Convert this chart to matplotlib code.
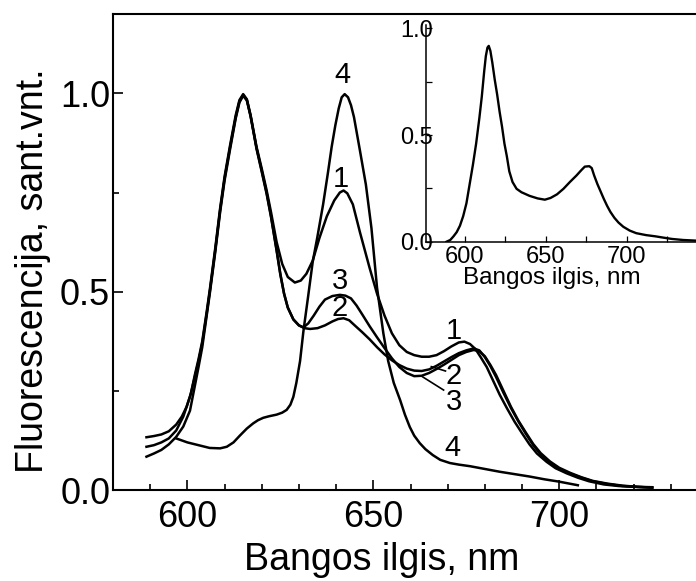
import matplotlib
matplotlib.use("Agg")
import matplotlib.pyplot as plt
from matplotlib.ticker import MultipleLocator

plt.rcParams['font.family'] = ['Liberation Sans', 'DejaVu Sans']

# ---- fluorescence spectra (wavelength, nm / normalised intensity) ----
wl_1 = [589, 591, 593, 595, 597, 598.5, 599.8, 601, 602, 603, 604, 605.2, 606.1, 607.5, 608.8,
        610, 611.5, 613, 614, 615, 616, 617, 618.6, 620, 621.3, 622.5, 624, 625.5, 627, 628.9,
        630.5, 632, 633.7, 635.5, 637.5, 639.5, 641, 642, 643, 644.5, 646.4, 649, 651, 653, 655,
        657, 659, 661, 663, 665, 667, 669, 671, 673, 674.5, 676, 677.5, 679, 680.5, 682, 684,
        686, 688, 690, 692, 694, 696.6, 699, 702, 705, 708, 712, 716, 720, 725]
fl_1 = [0.133, 0.136, 0.14, 0.148, 0.165, 0.185, 0.21, 0.245, 0.29, 0.33, 0.375, 0.45, 0.51, 0.61, 0.71,
        0.79, 0.87, 0.945, 0.983, 0.998, 0.985, 0.945, 0.865, 0.81, 0.756, 0.70, 0.625, 0.57, 0.537, 0.523,
        0.528, 0.545, 0.578, 0.635, 0.69, 0.73, 0.75, 0.755, 0.748, 0.72, 0.65, 0.56, 0.495, 0.44, 0.395,
        0.365, 0.348, 0.34, 0.336, 0.336, 0.34, 0.35, 0.362, 0.372, 0.374, 0.368, 0.355, 0.333, 0.31, 0.28, 0.24,
        0.205, 0.172, 0.143, 0.115, 0.092, 0.071, 0.055, 0.042, 0.031, 0.022, 0.014, 0.01, 0.008, 0.006]

wl_2 = [589, 591, 593, 595, 597, 598.9, 600.7, 602, 603, 604, 605.2, 606.1, 607.5, 608.8, 610,
        611.5, 613, 614, 615, 616, 617, 618.6, 620, 621.3, 622.5, 624, 625, 626, 627, 628.5,
        630, 631.5, 633, 635, 637, 639, 640.5, 642, 643.5, 645, 647, 649, 651, 653, 655, 657,
        659, 661, 663, 665, 667, 669, 671, 673, 675, 677, 678.5, 680, 681.5, 683, 685, 687,
        689, 691, 693, 695, 697.5, 700, 703, 706, 709, 713, 717, 721, 725]
fl_2 = [0.109, 0.113, 0.12, 0.13, 0.15, 0.185, 0.235, 0.285, 0.325, 0.37, 0.445, 0.505, 0.605, 0.705, 0.785,
        0.865, 0.94, 0.98, 0.996, 0.983, 0.943, 0.862, 0.805, 0.75, 0.69, 0.605, 0.545, 0.495, 0.46, 0.43,
        0.415, 0.408, 0.406, 0.408, 0.415, 0.425, 0.431, 0.433, 0.428, 0.415, 0.398, 0.38, 0.36, 0.342, 0.327, 0.315,
        0.306, 0.301, 0.30, 0.304, 0.313, 0.324, 0.335, 0.345, 0.352, 0.357, 0.352, 0.335, 0.312, 0.285, 0.245, 0.207,
        0.173, 0.142, 0.113, 0.09, 0.069, 0.054, 0.041, 0.031, 0.022, 0.015, 0.01, 0.008, 0.006]

wl_3 = [589, 591, 593, 595, 597, 598.9, 600.7, 602, 603, 604, 605.2, 606.1, 607.5, 608.8, 610,
        611.5, 613, 614, 615, 616, 617, 618.6, 620, 621.3, 622.5, 624, 625, 626, 627, 628.5,
        630, 631.2, 632.5, 634, 635.5, 637, 639, 641, 642.5, 644, 645.5, 647, 649, 651, 653,
        655, 657, 659, 661, 663, 665, 667, 669, 671, 673, 675, 677, 678.5, 680, 681.5, 683,
        685, 687, 689, 691, 693, 695, 697.5, 700, 703, 706, 709, 713, 717, 721, 725]
fl_3 = [0.084, 0.092, 0.101, 0.115, 0.134, 0.16, 0.2, 0.262, 0.31, 0.36, 0.44, 0.5, 0.6, 0.7, 0.78,
        0.86, 0.937, 0.977, 0.994, 0.982, 0.942, 0.86, 0.802, 0.747, 0.688, 0.603, 0.543, 0.495, 0.46, 0.43,
        0.415, 0.41, 0.42, 0.44, 0.462, 0.48, 0.489, 0.492, 0.49, 0.483, 0.465, 0.443, 0.413, 0.385, 0.358,
        0.332, 0.31, 0.295, 0.287, 0.288, 0.295, 0.305, 0.316, 0.328, 0.34, 0.348, 0.353, 0.35, 0.337, 0.315, 0.29,
        0.25, 0.21, 0.175, 0.145, 0.116, 0.093, 0.072, 0.056, 0.043, 0.032, 0.023, 0.016, 0.011, 0.008, 0.007]

wl_4 = [597, 600, 603, 606, 608.8, 610.6, 612.4, 614.1, 616, 617.7, 619, 620.4, 622, 624, 625.5,
        626.7, 627.7, 628.5, 629.3, 630.3, 631.2, 632.5, 633.7, 635, 636.5, 637.8, 638.8, 639.8,
        640.7, 641.5, 642.3, 643.2, 644, 644.8, 646.4, 648, 649.5, 651, 652.7, 654, 655.5, 657.2,
        658.5, 659.8, 661, 662.5, 664, 666, 668, 670.6, 673, 676, 680, 684, 688, 692, 696, 700, 705]
fl_4 = [0.13, 0.12, 0.113, 0.106, 0.105, 0.109, 0.12, 0.137, 0.155, 0.168, 0.176, 0.182, 0.186, 0.19, 0.195,
        0.202, 0.215, 0.235, 0.27, 0.325, 0.40, 0.49, 0.575, 0.64, 0.72, 0.80, 0.865, 0.92,
        0.962, 0.99, 0.998, 0.99, 0.97, 0.94, 0.856, 0.77, 0.66, 0.51, 0.395, 0.325, 0.27, 0.227,
        0.19, 0.159, 0.137, 0.118, 0.103, 0.088, 0.076, 0.068, 0.064, 0.060, 0.053, 0.046, 0.04, 0.034, 0.027, 0.021, 0.012]

# ---- inset spectrum ----
wl_in = [588.7, 591, 593, 595, 597, 599, 601, 603, 605, 607, 609, 610.5, 612, 613, 614, 614.8,
         615.8, 617, 618.5, 620, 621.5, 623, 624.5, 626, 627.5, 629.5, 632, 635, 640, 645, 649.5,
         653, 657, 661, 665, 669, 672, 674.2, 677, 678.5, 680, 682, 684, 686, 688, 690, 692.5,
         695, 698, 702, 706, 712, 718, 722, 728, 735, 743]
fl_in = [0.0, 0.008, 0.025, 0.045, 0.075, 0.12, 0.18, 0.27, 0.36, 0.46, 0.58, 0.68, 0.80, 0.87, 0.91, 0.918,
         0.895, 0.84, 0.76, 0.69, 0.61, 0.54, 0.46, 0.40, 0.33, 0.28, 0.248, 0.232, 0.215, 0.203, 0.197,
         0.205, 0.222, 0.248, 0.28, 0.31, 0.335, 0.352, 0.354, 0.345, 0.31, 0.27, 0.235, 0.2, 0.168, 0.14, 0.112,
         0.09, 0.07, 0.052, 0.04, 0.031, 0.025, 0.02, 0.013, 0.008, 0.005]

# curve number labels: (text, wavelength, intensity)
curve_labels = [("4", 641.6, 1.045), ("1", 641.3, 0.783), ("3", 641.0, 0.527), ("2", 641.0, 0.458),
                ("1", 671.7, 0.400), ("2", 671.7, 0.287), ("3", 671.7, 0.222), ("4", 671.4, 0.106)]

W, H = 696, 581
fig = plt.figure(figsize=(W / 100, H / 100), dpi=100)

# main panel
ax = fig.add_axes([113 / W, (H - 490) / H, 595 / W, 476 / H])
for wl, fl in [(wl_1, fl_1), (wl_2, fl_2), (wl_3, fl_3), (wl_4, fl_4)]:
    ax.plot(wl, fl, color='black', lw=1.8, solid_joinstyle='round')

for txt, x, y in curve_labels:
    ax.text(x, y, txt, fontsize=21, ha='center', va='center')

# leader lines from curves 2 and 3 to their labels
ax.plot([665.6, 669.4], [0.311, 0.300], color='black', lw=1.2)
ax.plot([663.3, 668.9], [0.285, 0.252], color='black', lw=1.2)

ax.set_xlim(580, 740)
ax.set_ylim(0, 1.2)
ax.spines['right'].set_visible(False)
for s in ax.spines.values():
    s.set_linewidth(1.5)
ax.xaxis.set_major_locator(MultipleLocator(50))
ax.xaxis.set_minor_locator(MultipleLocator(10))
ax.yaxis.set_major_locator(MultipleLocator(0.5))
ax.yaxis.set_minor_locator(MultipleLocator(0.25))
ax.tick_params(which='both', direction='in', top=False, right=False, width=1.2, labelsize=26)
ax.tick_params(which='major', length=7)
ax.tick_params(which='minor', length=4)
ax.tick_params(axis='x', pad=7)
ax.tick_params(axis='y', pad=2)
ax.set_xlabel("Bangos ilgis, nm", fontsize=27)
ax.set_ylabel("Fluorescencija, sant.vnt.", fontsize=27)
ax.xaxis.set_label_coords(381.5 / W, 1 - 542 / H, transform=fig.transFigure)
ax.yaxis.set_label_coords(51 / W, 1 - 271 / H, transform=fig.transFigure)

# inset panel
axin = fig.add_axes([426 / W, (H - 241.7) / H, 273.3 / W, 216.5 / H])
axin.patch.set_alpha(0)
axin.plot(wl_in, fl_in, color='black', lw=1.7, solid_joinstyle='round')
axin.set_xlim(576, 745)
axin.set_ylim(0, 1.015)
axin.spines['top'].set_visible(False)
axin.spines['right'].set_visible(False)
for s in ['left', 'bottom']:
    axin.spines[s].set_linewidth(1.1)
axin.xaxis.set_major_locator(MultipleLocator(50))
axin.xaxis.set_minor_locator(MultipleLocator(25))
axin.yaxis.set_major_locator(MultipleLocator(0.5))
axin.yaxis.set_minor_locator(MultipleLocator(0.25))
axin.tick_params(which='both', direction='in', top=False, right=False, length=4, width=0.9, labelsize=17)
axin.tick_params(axis='y', pad=-5)
axin.tick_params(axis='x', pad=3)
axin.set_xlabel("Bangos ilgis, nm", fontsize=17.5)
axin.xaxis.set_label_coords(552 / W, 1 - 267 / H, transform=fig.transFigure)

fig.savefig("out.png", dpi=100)
